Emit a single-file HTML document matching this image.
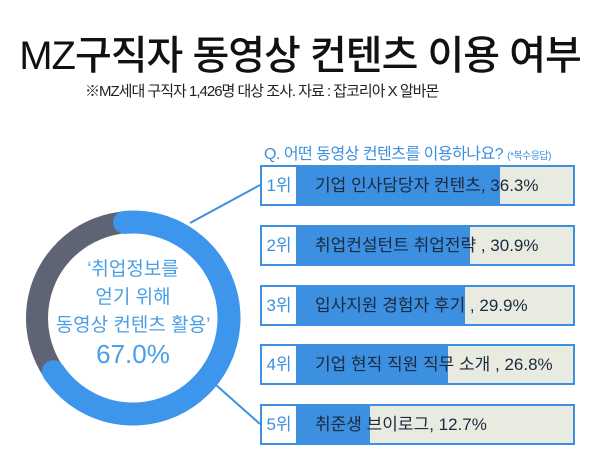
<!DOCTYPE html>
<html><head><meta charset="utf-8"><style>
body{margin:0;width:600px;height:457px;background:#fff;position:relative;overflow:hidden;font-family:"Liberation Sans","Noto Sans CJK KR",sans-serif}
.a{position:absolute;white-space:nowrap}
.row{position:absolute;left:260px;width:311px;height:37px;border:2px solid #3d8fe0;background:#e9ebe0}
.row .b{position:absolute;left:0;top:0;bottom:0;background:#3d8fe0}
.row .n{position:absolute;left:0;top:0;width:34px;height:37px;background:#fff;border-right:2px solid #3d8fe0;color:#3d8fe0;font-size:17px;line-height:37px;text-align:center}
.row .t{position:absolute;left:53px;top:0;line-height:37px;font-size:17px;color:#1a2a40;white-space:nowrap}
</style></head><body>
<div class="a" style="left:0;width:600px;top:23px;text-align:center;font-size:40px;font-weight:500;color:#111;letter-spacing:-1px">MZ구직자 동영상 컨텐츠 이용 여부</div>
<div class="a" style="left:85px;top:80px;font-size:15px;color:#222;letter-spacing:-1px">※MZ세대 구직자 1,426명 대상 조사. 자료 : 잡코리아 X 알바몬</div>
<div class="a" style="left:264px;top:140px;font-size:16px;color:#3d8fe0;letter-spacing:-0.5px">Q. 어떤 동영상 컨텐츠를 이용하나요? <span style="font-size:10px">(*복수응답)</span></div>
<svg class="a" style="left:0;top:0" width="600" height="457">
<line x1="190" y1="223" x2="260" y2="185" stroke="#3d8fe0" stroke-width="2"/>
<line x1="216" y1="385" x2="260" y2="424" stroke="#3d8fe0" stroke-width="2"/>
<circle cx="133" cy="318" r="96" fill="none" stroke="#5f6475" stroke-width="22"/>
<path d="M 124.6 222.4 A 96 96 0 1 1 53.4 371.7" fill="none" stroke="#3d95ec" stroke-width="23" stroke-linecap="round"/>
</svg>
<div class="a" style="left:33px;width:200px;top:256px;text-align:center;font-size:19px;line-height:28px;color:#4a9fe6">‘취업정보를<br>얻기 위해<br>동영상 컨텐츠 활용’</div>
<div class="a" style="left:33px;width:200px;top:339px;text-align:center;font-size:26px;color:#4a9fe6">67.0%</div>
<div class="row" style="top:165px"><div class="b" style="width:238px"></div><div class="n">1위</div><div class="t">기업 인사담당자 컨텐츠, 36.3%</div></div>
<div class="row" style="top:225px"><div class="b" style="width:208px"></div><div class="n">2위</div><div class="t">취업컨설턴트 취업전략 , 30.9%</div></div>
<div class="row" style="top:285px"><div class="b" style="width:203px"></div><div class="n">3위</div><div class="t">입사지원 경험자 후기 , 29.9%</div></div>
<div class="row" style="top:344px"><div class="b" style="width:186px"></div><div class="n">4위</div><div class="t">기업 현직 직원 직무 소개 , 26.8%</div></div>
<div class="row" style="top:404px"><div class="b" style="width:108px"></div><div class="n">5위</div><div class="t">취준생 브이로그, 12.7%</div></div>
</body></html>
